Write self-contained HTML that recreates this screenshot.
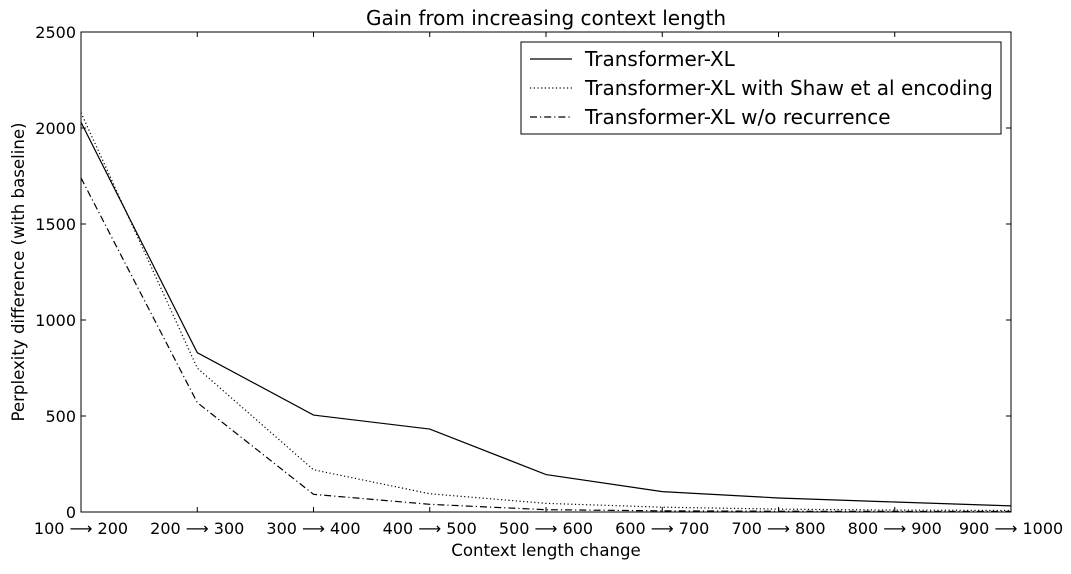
<!DOCTYPE html>
<html><head><meta charset="utf-8"><style>
body{margin:0;background:#fff;font-family:"DejaVu Sans","Liberation Sans",sans-serif;}
svg text{font-family:"DejaVu Sans","Liberation Sans",sans-serif;fill:#000;}
</style></head><body>
<svg id="chart" width="1071" height="570"></svg>
<script>
const categories=["100 \u27f6 200","200 \u27f6 300","300 \u27f6 400","400 \u27f6 500","500 \u27f6 600","600 \u27f6 700","700 \u27f6 800","800 \u27f6 900","900 \u27f6 1000"];
const seriesXL=[2030,830,505,432,195,106,73,52,32];
const seriesShaw=[2080,750,220,95,45,25,15,10,8];
const seriesNoRec=[1740,570,92,40,12,6,4,3,3];
const yTicks=[0,500,1000,1500,2000,2500];
const L=81,R=1011,T=32,B=512,YMAX=2500;
const NS="http://www.w3.org/2000/svg";
const svg=document.getElementById('chart');
function xs(i){return L+i*(R-L)/(categories.length-1);}
function ys(v){return B-v/YMAX*(B-T);}
function mk(tag,attrs,parent){const e=document.createElementNS(NS,tag);for(const k in attrs)e.setAttribute(k,attrs[k]);(parent||svg).appendChild(e);return e;}
function txt(s,attrs){const e=mk('text',attrs);e.textContent=s;return e;}
const frame=mk('rect',{x:L,y:T,width:R-L,height:B-T,fill:'none',stroke:'#000','stroke-width':1});


yTicks.forEach(v=>{
  const y=ys(v);
  mk('line',{x1:L,x2:L+5,y1:y,y2:y,stroke:'#000'});
  mk('line',{x1:R,x2:R-5,y1:y,y2:y,stroke:'#000'});
  const t=txt(String(v),{x:L-5,y:y+6,'text-anchor':'end','font-size':16});
  
  
});
categories.forEach((c,i)=>{
  const x=xs(i);
  mk('line',{x1:x,x2:x,y1:B,y2:B-5,stroke:'#000'});
  mk('line',{x1:x,x2:x,y1:T,y2:T+5,stroke:'#000'});
  const t=txt(c,{x:x,y:B+22,'text-anchor':'middle','font-size':16});
  
  
});
function line(data,dash,name){
  const p=mk('polyline',{points:data.map((v,i)=>xs(i)+','+ys(v)).join(' '),fill:'none',stroke:'#000','stroke-width':1.2,'stroke-dasharray':dash});
  
  
}
line(seriesXL,'none','line-transformer-xl');
line(seriesShaw,'1.2,2.5','line-shaw-encoding');
line(seriesNoRec,'7,3,1.2,3','line-no-recurrence');
let t=txt('Gain from increasing context length',{x:546,y:25,'text-anchor':'middle','font-size':20});


t=txt('Context length change',{x:546,y:556,'text-anchor':'middle','font-size':16.6});


t=txt('Perplexity difference (with baseline)',{x:0,y:0,'text-anchor':'middle','font-size':16.6,transform:'translate(24,272) rotate(-90)'});


const lg=mk('rect',{x:521,y:42,width:480,height:92,fill:'#fff',stroke:'#000'});


[['Transformer-XL','none'],['Transformer-XL with Shaw et al encoding','1.2,2.5'],['Transformer-XL w/o recurrence','7,3,1.2,3']].forEach((e,i)=>{
  const y=59+i*29;
  const l=mk('line',{x1:530,x2:572,y1:y,y2:y,stroke:'#000','stroke-width':1.2,'stroke-dasharray':e[1]});
  
  
  const tt=txt(e[0],{x:585,y:y+7,'font-size':20});
  
  
});
</script>
</body></html>
